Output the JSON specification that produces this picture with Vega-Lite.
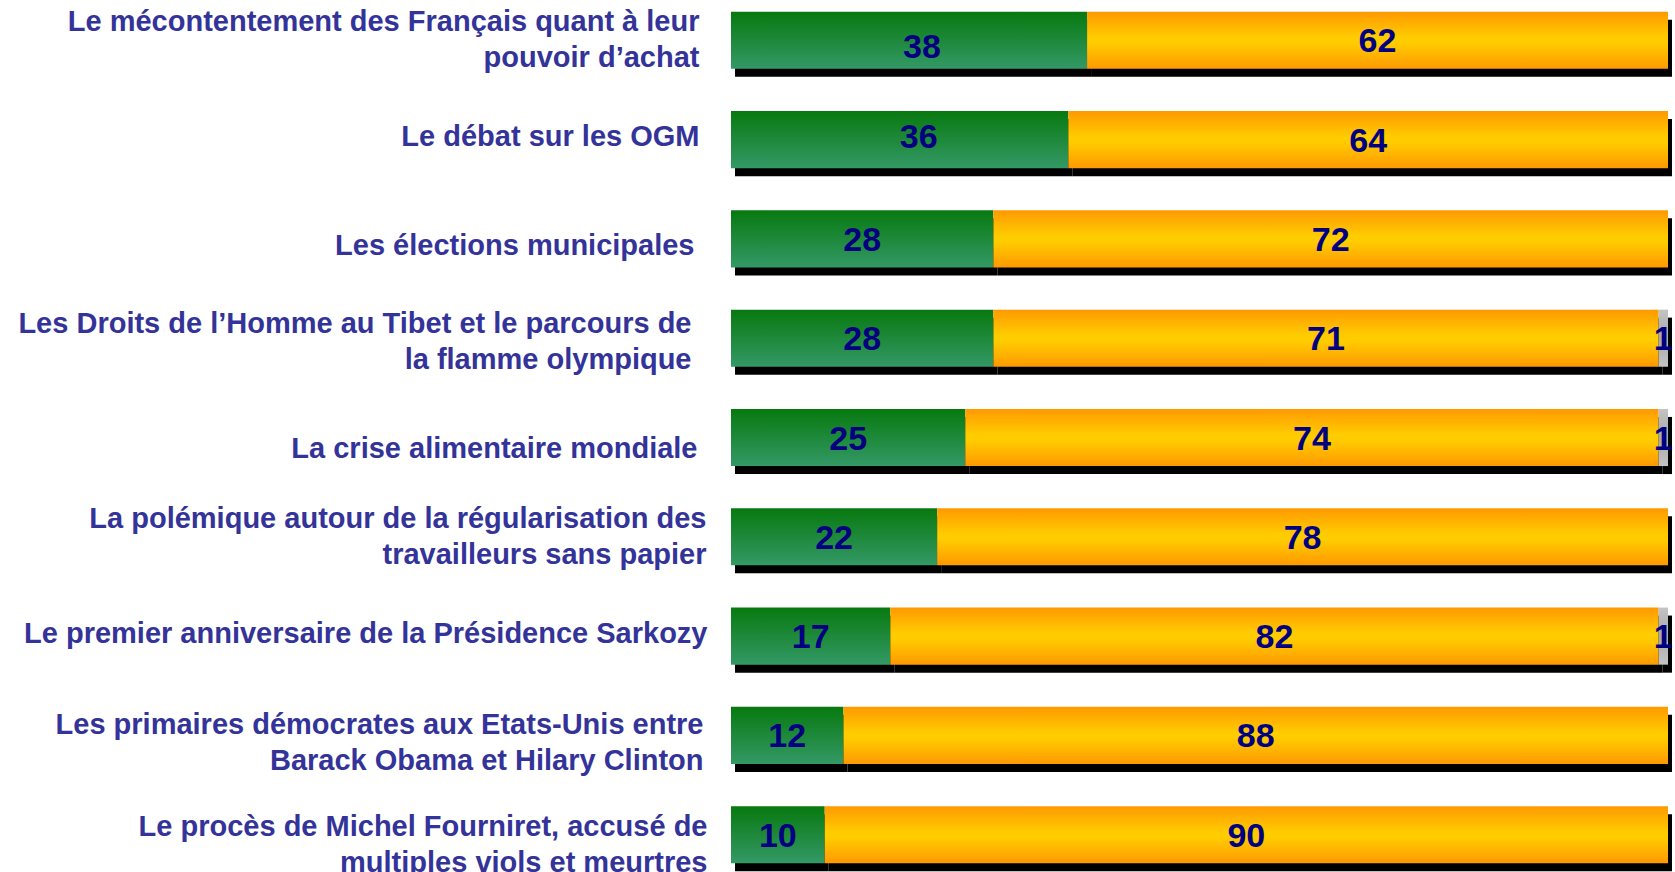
{
  "$schema": "https://vega.github.io/schema/vega-lite/v6.json",
  "autosize": {"type": "none"},
  "padding": {"left": 731, "top": 0, "right": 7, "bottom": 0},
  "width": 937,
  "height": 875,
  "config": {"view": {"stroke": null}, "font": "Liberation Sans"},
  "data": {"values": [
    {"rank": 1, "topic": "Le mécontentement des Français quant à leur|pouvoir d’achat", "cat": "oui", "value": 38},
    {"rank": 1, "topic": "Le mécontentement des Français quant à leur|pouvoir d’achat", "cat": "non", "value": 62},
    {"rank": 2, "topic": "Le débat sur les OGM", "cat": "oui", "value": 36},
    {"rank": 2, "topic": "Le débat sur les OGM", "cat": "non", "value": 64},
    {"rank": 3, "topic": "Les élections municipales", "cat": "oui", "value": 28},
    {"rank": 3, "topic": "Les élections municipales", "cat": "non", "value": 72},
    {"rank": 4, "topic": "Les Droits de l’Homme au Tibet et le parcours de|la flamme olympique", "cat": "oui", "value": 28},
    {"rank": 4, "topic": "Les Droits de l’Homme au Tibet et le parcours de|la flamme olympique", "cat": "non", "value": 71},
    {"rank": 4, "topic": "Les Droits de l’Homme au Tibet et le parcours de|la flamme olympique", "cat": "nsp", "value": 1},
    {"rank": 5, "topic": "La crise alimentaire mondiale", "cat": "oui", "value": 25},
    {"rank": 5, "topic": "La crise alimentaire mondiale", "cat": "non", "value": 74},
    {"rank": 5, "topic": "La crise alimentaire mondiale", "cat": "nsp", "value": 1},
    {"rank": 6, "topic": "La polémique autour de la régularisation des|travailleurs sans papier", "cat": "oui", "value": 22},
    {"rank": 6, "topic": "La polémique autour de la régularisation des|travailleurs sans papier", "cat": "non", "value": 78},
    {"rank": 7, "topic": "Le premier anniversaire de la Présidence Sarkozy", "cat": "oui", "value": 17},
    {"rank": 7, "topic": "Le premier anniversaire de la Présidence Sarkozy", "cat": "non", "value": 82},
    {"rank": 7, "topic": "Le premier anniversaire de la Présidence Sarkozy", "cat": "nsp", "value": 1},
    {"rank": 8, "topic": "Les primaires démocrates aux Etats-Unis entre|Barack Obama et Hilary Clinton", "cat": "oui", "value": 12},
    {"rank": 8, "topic": "Les primaires démocrates aux Etats-Unis entre|Barack Obama et Hilary Clinton", "cat": "non", "value": 88},
    {"rank": 9, "topic": "Le procès de Michel Fourniret, accusé de|multiples viols et meurtres", "cat": "oui", "value": 10},
    {"rank": 9, "topic": "Le procès de Michel Fourniret, accusé de|multiples viols et meurtres", "cat": "non", "value": 90}
  ]},
  "transform": [
    {"calculate": "datum.cat === 'oui' ? 1 : datum.cat === 'non' ? 2 : 3", "as": "ord"},
    {"stack": "value", "groupby": ["topic"], "sort": [{"field": "ord", "order": "ascending"}], "as": ["v0", "v1"]},
    {"calculate": "(datum.v0 + datum.v1) / 2", "as": "mid"}
  ],
  "encoding": {
    "y": {
      "field": "topic", "type": "nominal",
      "sort": {"field": "rank", "op": "min", "order": "ascending"},
      "scale": {"paddingInner": 0.425, "paddingOuter": 0.118},
      "axis": {
        "title": null, "ticks": false, "domain": false,
        "labelExpr": "split(datum.label, '|')",
        "labelFont": "Liberation Sans", "labelFontSize": 29, "labelFontWeight": "bold",
        "labelColor": "#333399", "labelLineHeight": 36, "labelLimit": 0,
        "labelOffset": {"condition": [
          {"test": "indexof(datum.value, 'mécontentement') >= 0", "value": -18},
          {"test": "indexof(datum.value, 'OGM') >= 0", "value": -3},
          {"test": "indexof(datum.value, 'municipales') >= 0", "value": 7},
          {"test": "indexof(datum.value, 'Tibet') >= 0", "value": -14},
          {"test": "indexof(datum.value, 'alimentaire') >= 0", "value": 11},
          {"test": "indexof(datum.value, 'polémique') >= 0", "value": -18},
          {"test": "indexof(datum.value, 'anniversaire') >= 0", "value": -2},
          {"test": "indexof(datum.value, 'primaires') >= 0", "value": -10},
          {"test": "indexof(datum.value, 'Fourniret') >= 0", "value": -8}
        ], "value": 0},
        "labelPadding": {"condition": [
          {"test": "indexof(datum.value, 'mécontentement') >= 0", "value": 32},
          {"test": "indexof(datum.value, 'OGM') >= 0", "value": 32},
          {"test": "indexof(datum.value, 'municipales') >= 0", "value": 37},
          {"test": "indexof(datum.value, 'Tibet') >= 0", "value": 40},
          {"test": "indexof(datum.value, 'alimentaire') >= 0", "value": 34},
          {"test": "indexof(datum.value, 'polémique') >= 0", "value": 25},
          {"test": "indexof(datum.value, 'anniversaire') >= 0", "value": 24},
          {"test": "indexof(datum.value, 'primaires') >= 0", "value": 28},
          {"test": "indexof(datum.value, 'Fourniret') >= 0", "value": 24}
        ], "value": 28}
      }
    }
  },
  "layer": [
    {
      "mark": {"type": "bar", "color": "#000000", "xOffset": 4, "x2Offset": 4, "yOffset": 8},
      "encoding": {
        "x": {"field": "v0", "type": "quantitative", "scale": {"domain": [0, 100], "nice": false}, "axis": null},
        "x2": {"field": "v1"}
      }
    },
    {
      "transform": [{"filter": "datum.cat === 'oui'"}],
      "mark": {"type": "bar", "color": {"gradient": "linear", "x1": 0, "y1": 0, "x2": 0, "y2": 1,
        "stops": [{"offset": 0, "color": "#08790f"}, {"offset": 1, "color": "#339966"}]}},
      "encoding": {
        "x": {"field": "v0", "type": "quantitative"},
        "x2": {"field": "v1"}
      }
    },
    {
      "transform": [{"filter": "datum.cat === 'non'"}],
      "mark": {"type": "bar", "color": {"gradient": "linear", "x1": 0, "y1": 0, "x2": 0, "y2": 1,
        "stops": [{"offset": 0, "color": "#ff9900"}, {"offset": 0.45, "color": "#ffcc00"}, {"offset": 0.55, "color": "#ffcc00"}, {"offset": 1, "color": "#ff9900"}]}},
      "encoding": {
        "x": {"field": "v0", "type": "quantitative"},
        "x2": {"field": "v1"}
      }
    },
    {
      "transform": [{"filter": "datum.cat === 'nsp'"}],
      "mark": {"type": "bar", "color": {"gradient": "linear", "x1": 0, "y1": 0, "x2": 0, "y2": 1,
        "stops": [{"offset": 0, "color": "#c4c4c4"}, {"offset": 0.5, "color": "#a8a8a8"}, {"offset": 1, "color": "#c4c4c4"}]}},
      "encoding": {
        "x": {"field": "v0", "type": "quantitative"},
        "x2": {"field": "v1"}
      }
    },
    {
      "transform": [{"filter": "!(datum.cat === 'oui' && datum.rank <= 2)"}],
      "mark": {"type": "text", "font": "Liberation Sans", "fontSize": 34, "fontWeight": "bold", "color": "#000080", "align": "center", "baseline": "middle", "dy": 2},
      "encoding": {
        "x": {"field": "mid", "type": "quantitative"},
        "text": {"field": "value", "type": "quantitative"}
      }
    },
    {
      "transform": [{"filter": "datum.cat === 'oui' && datum.rank === 1"}],
      "mark": {"type": "text", "font": "Liberation Sans", "fontSize": 34, "fontWeight": "bold", "color": "#000080", "align": "center", "baseline": "middle", "dx": 13, "dy": 8},
      "encoding": {
        "x": {"field": "mid", "type": "quantitative"},
        "text": {"field": "value", "type": "quantitative"}
      }
    },
    {
      "transform": [{"filter": "datum.cat === 'oui' && datum.rank === 2"}],
      "mark": {"type": "text", "font": "Liberation Sans", "fontSize": 34, "fontWeight": "bold", "color": "#000080", "align": "center", "baseline": "middle", "dx": 19, "dy": -2},
      "encoding": {
        "x": {"field": "mid", "type": "quantitative"},
        "text": {"field": "value", "type": "quantitative"}
      }
    }
  ]
}
